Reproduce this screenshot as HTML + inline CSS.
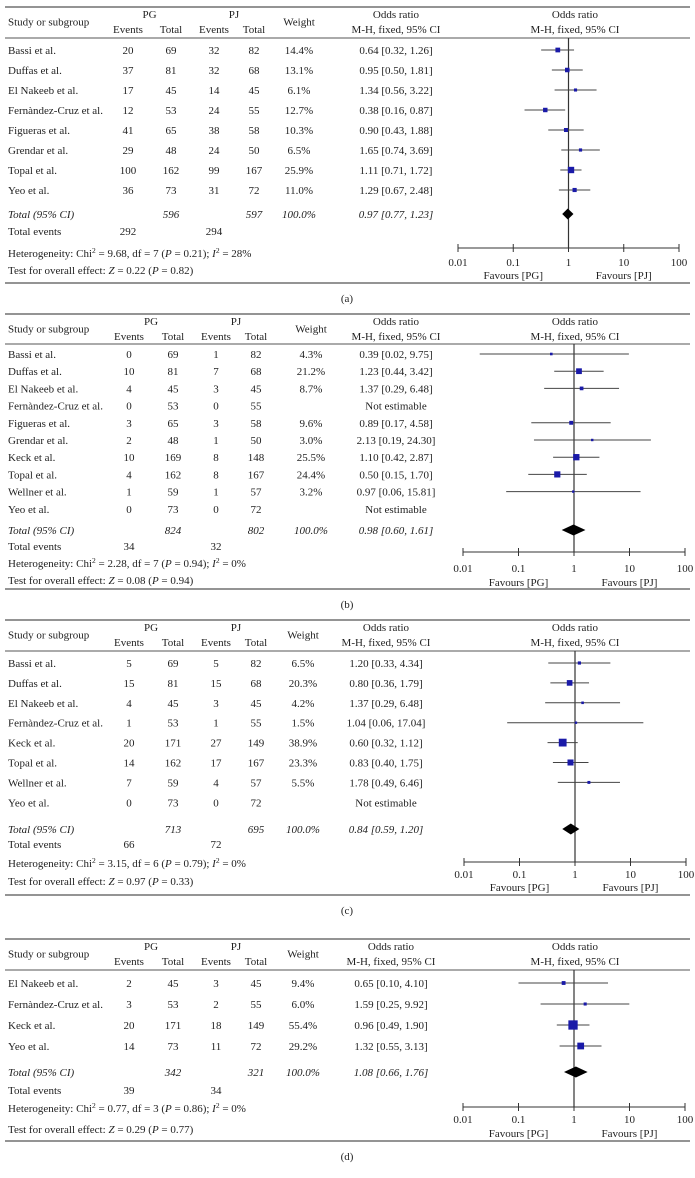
<!DOCTYPE html>
<html><head><meta charset="utf-8">
<style>
html,body{margin:0;padding:0;background:#fff;}
svg{display:block;font-family:"Liberation Serif",serif;}
</style></head>
<body>
<svg id="chart" width="695" height="1178" viewBox="0 0 695 1178" xmlns="http://www.w3.org/2000/svg"></svg>
<script>
// ---- Panel (a) data ----
const studiesA = ["Bassi et al.","Duffas et al.","El Nakeeb et al.","Fernàndez-Cruz et al.","Figueras et al.","Grendar et al.","Topal et al.","Yeo et al."];
const evPGA = [20,37,17,12,41,29,100,36];
const totPGA = [69,81,45,53,65,48,162,73];
const evPJA = [32,32,14,24,38,24,99,31];
const totPJA = [82,68,45,55,58,50,167,72];
const weightA = [14.4,13.1,6.1,12.7,10.3,6.5,25.9,11.0];
const orA = [0.64,0.95,1.34,0.38,0.90,1.65,1.11,1.29];
const loA = [0.32,0.50,0.56,0.16,0.43,0.74,0.71,0.67];
const hiA = [1.26,1.81,3.22,0.87,1.88,3.69,1.72,2.48];
const totalA = [596,597,0.97,0.77,1.23,292,294];
const hetA = ["9.68","7","0.21","28%","0.22","0.82"];

// ---- Panel (b) data ----
const studiesB = ["Bassi et al.","Duffas et al.","El Nakeeb et al.","Fernàndez-Cruz et al.","Figueras et al.","Grendar et al.","Keck et al.","Topal et al.","Wellner et al.","Yeo et al."];
const evPGB = [0,10,4,0,3,2,10,4,1,0];
const totPGB = [69,81,45,53,65,48,169,162,59,73];
const evPJB = [1,7,3,0,3,1,8,8,1,0];
const totPJB = [82,68,45,55,58,50,148,167,57,72];
const weightB = [4.3,21.2,8.7,null,9.6,3.0,25.5,24.4,3.2,null];
const orB = [0.39,1.23,1.37,null,0.89,2.13,1.10,0.50,0.97,null];
const loB = [0.02,0.44,0.29,null,0.17,0.19,0.42,0.15,0.06,null];
const hiB = [9.75,3.42,6.48,null,4.58,24.30,2.87,1.70,15.81,null];
const totalB = [824,802,0.98,0.60,1.61,34,32];
const hetB = ["2.28","7","0.94","0%","0.08","0.94"];

// ---- Panel (c) data ----
const studiesC = ["Bassi et al.","Duffas et al.","El Nakeeb et al.","Fernàndez-Cruz et al.","Keck et al.","Topal et al.","Wellner et al.","Yeo et al."];
const evPGC = [5,15,4,1,20,14,7,0];
const totPGC = [69,81,45,53,171,162,59,73];
const evPJC = [5,15,3,1,27,17,4,0];
const totPJC = [82,68,45,55,149,167,57,72];
const weightC = [6.5,20.3,4.2,1.5,38.9,23.3,5.5,null];
const orC = [1.20,0.80,1.37,1.04,0.60,0.83,1.78,null];
const loC = [0.33,0.36,0.29,0.06,0.32,0.40,0.49,null];
const hiC = [4.34,1.79,6.48,17.04,1.12,1.75,6.46,null];
const totalC = [713,695,0.84,0.59,1.20,66,72];
const hetC = ["3.15","6","0.79","0%","0.97","0.33"];

// ---- Panel (d) data ----
const studiesD = ["El Nakeeb et al.","Fernàndez-Cruz et al.","Keck et al.","Yeo et al."];
const evPGD = [2,3,20,14];
const totPGD = [45,53,171,73];
const evPJD = [3,2,18,11];
const totPJD = [45,55,149,72];
const weightD = [9.4,6.0,55.4,29.2];
const orD = [0.65,1.59,0.96,1.32];
const loD = [0.10,0.25,0.49,0.55];
const hiD = [4.10,9.92,1.90,3.13];
const totalD = [342,321,1.08,0.66,1.76,39,34];
const hetD = ["0.77","3","0.86","0%","0.29","0.77"];

const tickVals = [0.01,0.1,1,10,100];
const tickLabels = ["0.01","0.1","1","10","100"];

const NS = "http://www.w3.org/2000/svg";
const svg = document.getElementById("chart");
function mk(tag, attrs, parent){
  const e = document.createElementNS(NS, tag);
  for (const k in attrs) e.setAttribute(k, attrs[k]);
  (parent||svg).appendChild(e);
  return e;
}
function txt(x,y,s,anchor,parent,italic){
  const t = mk("text",{x:x,y:y+4,"font-size":"11","text-anchor":anchor||"middle",fill:"#222"},parent);
  if (italic) t.setAttribute("font-style","italic");
  t.textContent = s;
  return t;
}
function f2(v){return v.toFixed(2);}
function fw(v){return v.toFixed(1)+"%";}

function panel(L, D, name){
  const g = mk("g",{});
  
  
  const xs = v => L.x0 + (Math.log10(v)+2)/4*(L.x100-L.x0);
  const ln = (y,w) => mk("line",{x1:5,x2:690,y1:y,y2:y,stroke:"#555","stroke-width":w},g);
  ln(L.top,1.2); ln(L.hline,1); ln(L.bottom,1.2);
  const h = mk("g",{},g);
  
  
  txt(8,(L.hdr1+L.hdr2)/2,"Study or subgroup","start",h);
  txt((L.c[0]+L.c[1])/2,L.hdr1,"PG","middle",h);
  txt((L.c[2]+L.c[3])/2,L.hdr1,"PJ","middle",h);
  txt(L.c[0],L.hdr2,"Events","middle",h); txt(L.c[1],L.hdr2,"Total","middle",h);
  txt(L.c[2],L.hdr2,"Events","middle",h); txt(L.c[3],L.hdr2,"Total","middle",h);
  txt(L.wt,(L.hdr1+L.hdr2)/2,"Weight","middle",h);
  txt(L.orc,L.hdr1,"Odds ratio","middle",h); txt(L.orc,L.hdr2,"M-H, fixed, 95% CI","middle",h);
  txt(575,L.hdr1,"Odds ratio","middle",h); txt(575,L.hdr2,"M-H, fixed, 95% CI","middle",h);
  mk("line",{x1:xs(1),x2:xs(1),y1:L.hline,y2:L.axis,stroke:"#333","stroke-width":1.2},g);
  D.studies.forEach((s,i)=>{
    const y = L.row0 + i*L.step;
    const r = mk("g",{},g);
    
    
    txt(8,y,s,"start",r);
    txt(L.c[0],y,String(D.e1[i]),"middle",r); txt(L.c[1],y,String(D.t1[i]),"middle",r);
    txt(L.c[2],y,String(D.e2[i]),"middle",r); txt(L.c[3],y,String(D.t2[i]),"middle",r);
    if (D.or[i]==null){ txt(L.orc,y,"Not estimable","middle",r); return; }
    txt(L.wt,y,fw(D.w[i]),"middle",r);
    txt(L.orc,y,f2(D.or[i])+" ["+f2(D.lo[i])+", "+f2(D.hi[i])+"]","middle",r);
    const ci = mk("line",{x1:xs(D.lo[i]),x2:xs(D.hi[i]),y1:y,y2:y,stroke:"#444","stroke-width":1},r);
    
    
    const sz = Math.max(2.4, Math.sqrt(D.w[i])*1.25);
    const sq = mk("rect",{x:xs(D.or[i])-sz/2,y:y-sz/2,width:sz,height:sz,fill:"#1a1aa8"},r);
    
    
  });
  const T = D.total;
  txt(8,L.tot,"Total (95% CI)","start",g,true);
  txt(L.c[1],L.tot,String(T[0]),"middle",g,true);
  txt(L.c[3],L.tot,String(T[1]),"middle",g,true);
  txt(L.wt,L.tot,"100.0%","middle",g,true);
  txt(L.orc,L.tot,f2(T[2])+" ["+f2(T[3])+", "+f2(T[4])+"]","middle",g,true);
  const dm = mk("polygon",{points:[xs(T[3])+","+L.tot, xs(T[2])+","+(L.tot-5.5), xs(T[4])+","+L.tot, xs(T[2])+","+(L.tot+5.5)].join(" "),fill:"#000"},g);
  
  
  txt(8,L.tev,"Total events","start",g);
  txt(L.c[0],L.tev,String(T[5]),"middle",g);
  txt(L.c[2],L.tev,String(T[6]),"middle",g);
  const H = D.het;
  const ht = mk("text",{x:8,y:L.het+4,"font-size":"11",fill:"#222"},g);
  
  
  ht.innerHTML = 'Heterogeneity: Chi<tspan font-size="7.5" dy="-4">2</tspan><tspan dy="4"> = '+H[0]+', df = '+H[1]+' (</tspan><tspan font-style="italic">P</tspan><tspan> = '+H[2]+'); </tspan><tspan font-style="italic">I</tspan><tspan font-size="7.5" dy="-4">2</tspan><tspan dy="4"> = '+H[3]+'</tspan>';
  const tt = mk("text",{x:8,y:L.test+4,"font-size":"11",fill:"#222"},g);
  
  
  tt.innerHTML = 'Test for overall effect: <tspan font-style="italic">Z</tspan> = '+H[4]+' (<tspan font-style="italic">P</tspan> = '+H[5]+')';
  const ax = mk("g",{},g);
  
  
  mk("line",{x1:xs(0.01),x2:xs(100),y1:L.axis,y2:L.axis,stroke:"#333","stroke-width":1},ax);
  tickVals.forEach((v,i)=>{
    mk("line",{x1:xs(v),x2:xs(v),y1:L.axis-4,y2:L.axis+4,stroke:"#333","stroke-width":1},ax);
    txt(xs(v),L.ticks,tickLabels[i],"middle",ax);
  });
  txt(xs(0.1),L.fav,"Favours [PG]","middle",ax);
  txt(xs(10),L.fav,"Favours [PJ]","middle",ax);
  const lb = txt(347,L.label,"("+name+")","middle",g);
  
  
}

panel({top:7,hdr1:14,hdr2:29,hline:38,row0:50,step:20,tot:214,tev:231,het:253,test:270,axis:248,ticks:262,fav:275,bottom:283,label:298,x0:458,x100:679,c:[128,171,214,254],wt:299,orc:396},
  {studies:studiesA,e1:evPGA,t1:totPGA,e2:evPJA,t2:totPJA,w:weightA,or:orA,lo:loA,hi:hiA,total:totalA,het:hetA},"a");
panel({top:314,hdr1:321,hdr2:336,hline:344,row0:354,step:17.2,tot:530,tev:546,het:563,test:580,axis:552,ticks:568,fav:582,bottom:589,label:604,x0:463,x100:685,c:[129,173,216,256],wt:311,orc:396},
  {studies:studiesB,e1:evPGB,t1:totPGB,e2:evPJB,t2:totPJB,w:weightB,or:orB,lo:loB,hi:hiB,total:totalB,het:hetB},"b");
panel({top:620,hdr1:627,hdr2:642,hline:651,row0:663,step:19.9,tot:829,tev:844,het:863,test:881,axis:862,ticks:874,fav:887,bottom:895,label:910,x0:464,x100:686,c:[129,173,216,256],wt:303,orc:386},
  {studies:studiesC,e1:evPGC,t1:totPGC,e2:evPJC,t2:totPJC,w:weightC,or:orC,lo:loC,hi:hiC,total:totalC,het:hetC},"c");
panel({top:939,hdr1:946,hdr2:961,hline:970,row0:983,step:21,tot:1072,tev:1090,het:1108,test:1129,axis:1107,ticks:1119,fav:1133,bottom:1141,label:1156,x0:463,x100:685,c:[129,173,216,256],wt:303,orc:391},
  {studies:studiesD,e1:evPGD,t1:totPGD,e2:evPJD,t2:totPJD,w:weightD,or:orD,lo:loD,hi:hiD,total:totalD,het:hetD},"d");
</script>
</body></html>
